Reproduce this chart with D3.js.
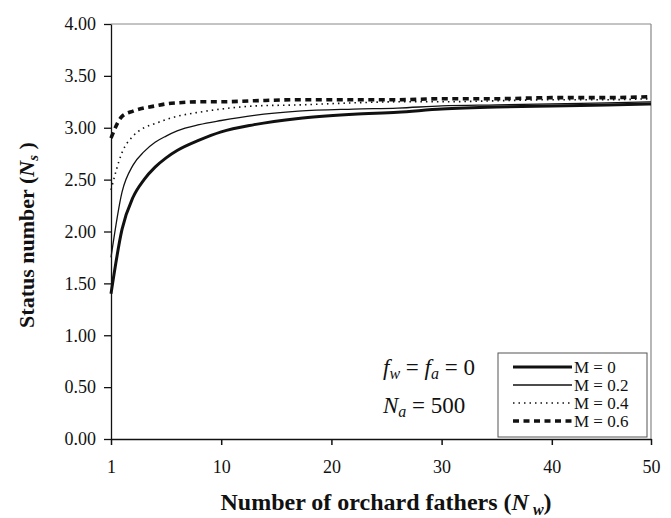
<!doctype html>
<html>
  <head>
    <meta charset="utf-8">
    <title>Status number vs orchard fathers</title>
    <script src="https://cdnjs.cloudflare.com/ajax/libs/d3/7.8.5/d3.min.js"></script>
    <style>
      body { margin: 0; background: #fff; }
      text { font-family: "Liberation Serif", "Times New Roman", serif; fill: #111; }
    </style>
  </head>
  <body>
    <svg width="671" height="518"></svg>
    <script>

      // category positions on the x axis (Excel style index, 0 = first category)
      var xIndex = [0, 1, 2, 3, 4, 5, 6, 8, 10, 13, 17, 22, 26, 30, 35, 40, 45, 49];

      // status number for each migration level
      var m00 = [1.40, 2.02, 2.33, 2.50, 2.62, 2.71, 2.78, 2.88, 2.96, 3.03, 3.09, 3.13, 3.15, 3.18, 3.20, 3.21, 3.22, 3.23];
      var m02 = [1.75, 2.38, 2.64, 2.77, 2.86, 2.92, 2.97, 3.03, 3.07, 3.12, 3.16, 3.18, 3.19, 3.21, 3.22, 3.23, 3.24, 3.25];
      var m04 = [2.40, 2.76, 2.92, 3.00, 3.04, 3.08, 3.11, 3.15, 3.18, 3.21, 3.22, 3.24, 3.25, 3.25, 3.26, 3.27, 3.27, 3.28];
      var m06 = [2.90, 3.11, 3.16, 3.19, 3.21, 3.23, 3.24, 3.25, 3.25, 3.26, 3.27, 3.27, 3.27, 3.28, 3.28, 3.29, 3.29, 3.30];

      var seriesNames = ["M = 0", "M = 0.2", "M = 0.4", "M = 0.6"];

      var xTickIndex = [0, 10, 20, 30, 40, 49];
      var xTickLabels = ["1", "10", "20", "30", "40", "50"];
      var yTicks = [0, 0.5, 1, 1.5, 2, 2.5, 3, 3.5, 4];

      (function() {
        var svg = d3.select("svg");

        var plotLeft = 111, plotRight = 651, plotTop = 24, plotBottom = 439;

        var x = d3.scaleLinear().domain([0, 49]).range([plotLeft, plotRight]);
        var y = d3.scaleLinear().domain([0, 4]).range([plotBottom, plotTop]);

        // line styles for each series
        var styles = [
          { width: 3, dash: null },
          { width: 1.3, dash: null },
          { width: 1.6, dash: "1.5,4" },
          { width: 3.6, dash: "6,4.5" }
        ];
        var series = [m00, m02, m04, m06];

        // plot frame: grey on top / right
        svg.append("line").attr("x1", plotLeft).attr("x2", plotRight).attr("y1", plotTop).attr("y2", plotTop)
          .attr("stroke", "#888").attr("stroke-width", 1);
        svg.append("line").attr("x1", plotRight).attr("x2", plotRight).attr("y1", plotTop).attr("y2", plotBottom)
          .attr("stroke", "#888").attr("stroke-width", 1.2);

        var line = d3.line()
          .x(function(d) { return x(d[0]); })
          .y(function(d) { return y(d[1]); })
          .curve(d3.curveMonotoneX);

        series.forEach(function(vals, i) {
          var pts = xIndex.map(function(xi, j) { return [xi, vals[j]]; });
          svg.append("path")
            .attr("d", line(pts))
            .attr("fill", "none")
            .attr("stroke", "#111")
            .attr("stroke-width", styles[i].width)
            .attr("stroke-dasharray", styles[i].dash);
        });

        // y axis
        var yAxis = d3.axisLeft(y)
          .tickValues(yTicks)
          .tickFormat(d3.format(".2f"))
          .tickSize(7)
          .tickSizeOuter(0)
          .tickPadding(8);

        var gy = svg.append("g")
          .attr("transform", "translate(" + plotLeft + ",0)")
          .call(yAxis);
        gy.attr("font-family", null).attr("font-size", null);
        gy.selectAll("text").style("font-size", "18px");
        gy.selectAll("line, path").attr("stroke", "#111").attr("stroke-width", 1.3);

        // x axis
        var xAxis = d3.axisBottom(x)
          .tickValues(xTickIndex)
          .tickFormat(function(d, i) { return xTickLabels[i]; })
          .tickSize(6)
          .tickSizeOuter(0)
          .tickPadding(15);

        var gx = svg.append("g")
          .attr("transform", "translate(0," + plotBottom + ")")
          .call(xAxis);
        gx.attr("font-family", null).attr("font-size", null);
        gx.selectAll("text").style("font-size", "18px");
        gx.selectAll("line, path").attr("stroke", "#111").attr("stroke-width", 1.5);

        // axis titles
        var xt = svg.append("text")
          .attr("x", 386).attr("y", 510)
          .attr("text-anchor", "middle")
          .style("font-size", "24px").style("font-weight", "bold");
        xt.append("tspan").text("Number of orchard fathers (");
        xt.append("tspan").text("N").style("font-style", "italic");
        xt.append("tspan").text(" w").style("font-size", "16px").style("font-style", "italic").attr("dy", 5);
        xt.append("tspan").text(")").attr("dy", -5);

        var yt = svg.append("text")
          .attr("transform", "translate(34,235) rotate(-90)")
          .attr("text-anchor", "middle")
          .style("font-size", "22px").style("font-weight", "bold");
        yt.append("tspan").text("Status number (");
        yt.append("tspan").text("N").style("font-style", "italic");
        yt.append("tspan").text("s").style("font-size", "15px").style("font-style", "italic").attr("dy", 4);
        yt.append("tspan").text(" )").attr("dy", -4);

        // annotation
        var a1 = svg.append("text").attr("x", 383).attr("y", 375).style("font-size", "23px");
        a1.append("tspan").text("f").style("font-style", "italic");
        a1.append("tspan").text("w").style("font-size", "16px").style("font-style", "italic").attr("dy", 4);
        a1.append("tspan").text(" = ").attr("dy", -4);
        a1.append("tspan").text("f").style("font-style", "italic");
        a1.append("tspan").text("a").style("font-size", "16px").style("font-style", "italic").attr("dy", 4);
        a1.append("tspan").text(" = 0").attr("dy", -4);

        var a2 = svg.append("text").attr("x", 383).attr("y", 413).style("font-size", "23px");
        a2.append("tspan").text("N").style("font-style", "italic");
        a2.append("tspan").text("a").style("font-size", "16px").style("font-style", "italic").attr("dy", 4);
        a2.append("tspan").text("  = 500").attr("dy", -4);

        // legend
        var legend = svg.append("g");
        legend.append("rect")
          .attr("x", 498).attr("y", 353).attr("width", 149).attr("height", 84)
          .attr("fill", "#fff").attr("stroke", "#555").attr("stroke-width", 1);

        var rowY = d3.scalePoint().domain(seriesNames).range([367, 421]);

        seriesNames.forEach(function(name, i) {
          legend.append("line")
            .attr("x1", 513).attr("x2", 572)
            .attr("y1", rowY(name)).attr("y2", rowY(name))
            .attr("stroke", "#111")
            .attr("stroke-width", styles[i].width)
            .attr("stroke-dasharray", styles[i].dash);
          legend.append("text")
            .attr("x", 574).attr("y", rowY(name) + 6)
            .style("font-size", "17px")
            .text(name);
        });
      })();

    </script>
  </body>
</html>
